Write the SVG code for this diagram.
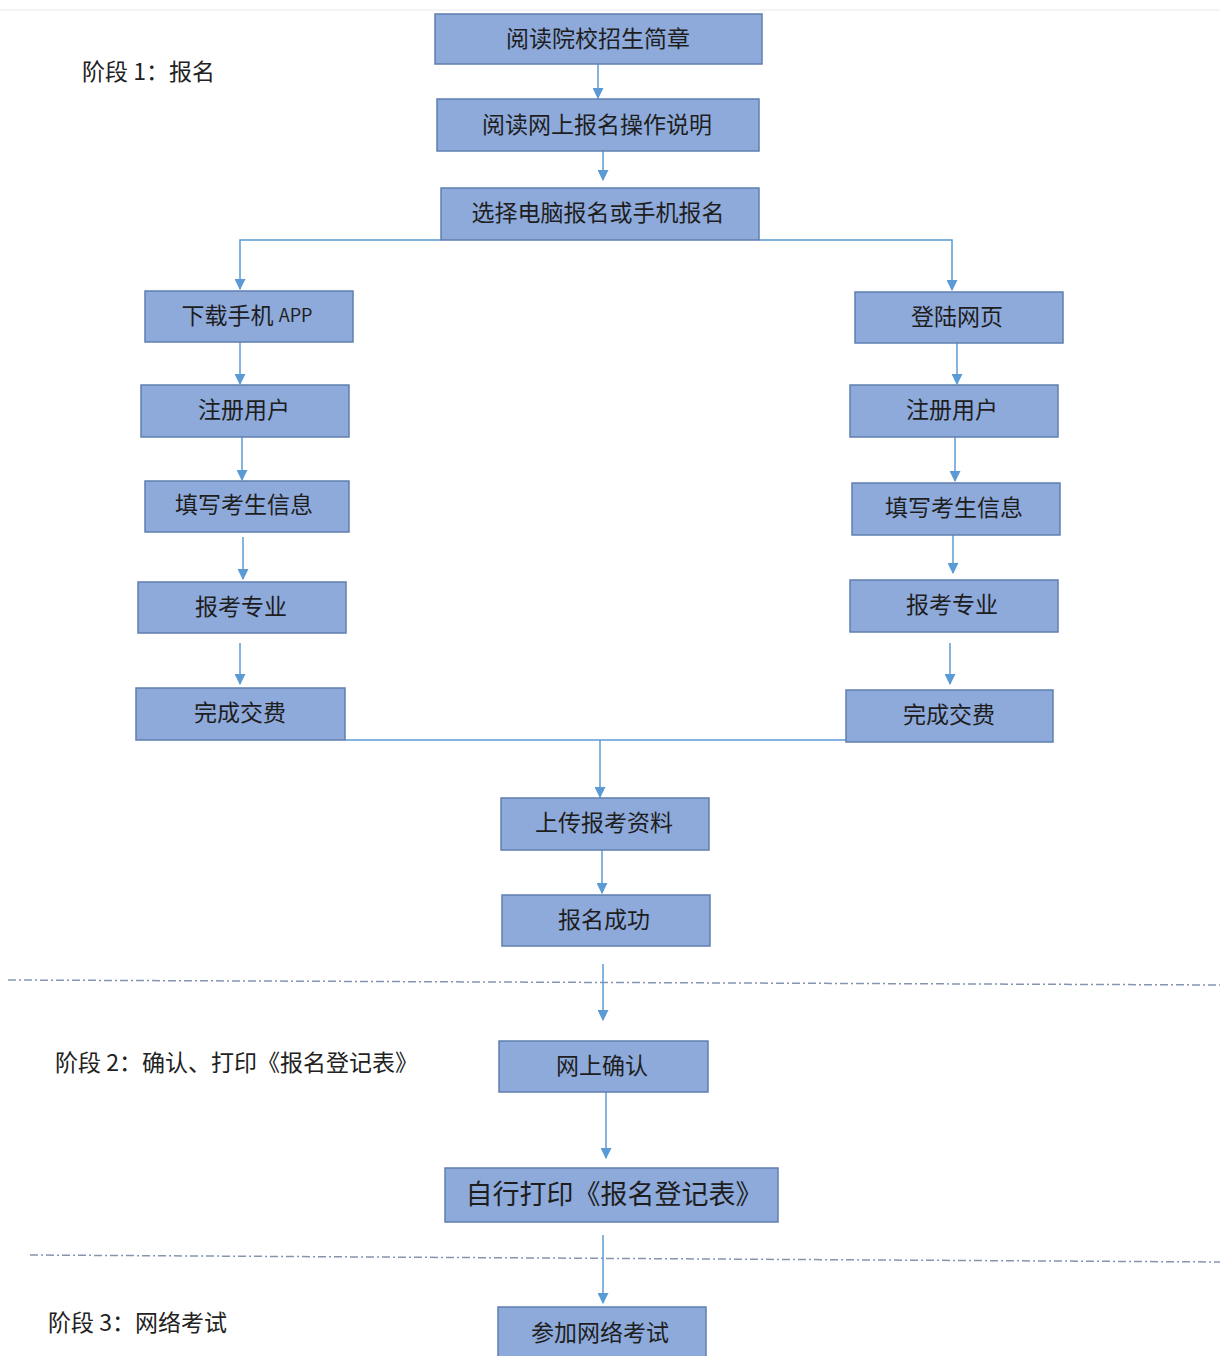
<svg xmlns="http://www.w3.org/2000/svg" width="1220" height="1356" viewBox="0 0 1220 1356">
<style>
.box{fill:#8eaadb;stroke:#5f7fb0;stroke-width:1.5}
.t{font-family:"Noto Sans CJK SC","Noto Sans",sans-serif;font-size:23px;fill:#1e1e1e;text-anchor:middle;dominant-baseline:central}
.lab{font-family:"Noto Sans CJK SC","Noto Sans",sans-serif;font-size:23px;fill:#222}
.c{fill:none;stroke:#5b9bd5;stroke-width:1.5}
.sep{fill:none;stroke:#8595b0;stroke-width:1.5;stroke-dasharray:8 3 2 3}
</style>
<defs>
<marker id="ah" viewBox="0 0 10 10" refX="9" refY="5" markerWidth="11" markerHeight="11" markerUnits="userSpaceOnUse" orient="auto">
<path d="M0,0 L10,5 L0,10 z" fill="#5b9bd5"/>
</marker>
</defs>
<rect width="1220" height="1356" fill="#ffffff"/>
<line x1="0" y1="10" x2="1220" y2="10" stroke="#e6e9ee" stroke-width="1"/>
<g id="labels">
<text class="lab" x="82" y="80">阶段 1：报名</text>
<text class="lab" x="55" y="1071">阶段 2：确认、打印《报名登记表》</text>
<text class="lab" x="48" y="1331">阶段 3：网络考试</text>
</g>
<g id="separators">
<path class="sep" d="M8,980 L1220,985"/>
<path class="sep" d="M30,1255 L1220,1262"/>
</g>
<g id="connectors">
<path class="c" marker-end="url(#ah)" d="M598,64 L598,98"/>
<path class="c" marker-end="url(#ah)" d="M603,151 L603,180"/>
<path class="c" marker-end="url(#ah)" d="M441,240 L240,240 L240,289"/>
<path class="c" marker-end="url(#ah)" d="M759,240 L952,240 L952,290"/>
<path class="c" marker-end="url(#ah)" d="M240,342 L240,384"/>
<path class="c" marker-end="url(#ah)" d="M242,437 L242,480"/>
<path class="c" marker-end="url(#ah)" d="M243,537 L243,579"/>
<path class="c" marker-end="url(#ah)" d="M240,643 L240,684"/>
<path class="c" marker-end="url(#ah)" d="M957,343 L957,384"/>
<path class="c" marker-end="url(#ah)" d="M955,437 L955,481"/>
<path class="c" marker-end="url(#ah)" d="M953,535 L953,573"/>
<path class="c" marker-end="url(#ah)" d="M950,643 L950,684"/>
<path class="c" d="M345,740 L846,740"/>
<path class="c" marker-end="url(#ah)" d="M600,740 L600,797"/>
<path class="c" marker-end="url(#ah)" d="M602,850 L602,893"/>
<path class="c" marker-end="url(#ah)" d="M603,964 L603,1020"/>
<path class="c" marker-end="url(#ah)" d="M606,1092 L606,1158"/>
<path class="c" marker-end="url(#ah)" d="M603,1235 L603,1303"/>
</g>
<g id="n1"><rect class="box" x="435" y="14" width="327" height="50"/><text class="t" x="598" y="37">阅读院校招生简章</text></g>
<g id="n2"><rect class="box" x="437" y="99" width="322" height="52"/><text class="t" x="597" y="123">阅读网上报名操作说明</text></g>
<g id="n3"><rect class="box" x="441" y="188" width="318" height="52"/><text class="t" x="598" y="211">选择电脑报名或手机报名</text></g>
<g id="l1"><rect class="box" x="145" y="291" width="208" height="51"/><text class="t" x="247" y="314">下载手机 <tspan font-size="18">APP</tspan></text></g>
<g id="l2"><rect class="box" x="141" y="385" width="208" height="52"/><text class="t" x="244" y="408">注册用户</text></g>
<g id="l3"><rect class="box" x="145" y="481" width="204" height="51"/><text class="t" x="244" y="503">填写考生信息</text></g>
<g id="l4"><rect class="box" x="138" y="582" width="208" height="51"/><text class="t" x="241" y="605">报考专业</text></g>
<g id="l5"><rect class="box" x="136" y="688" width="209" height="52"/><text class="t" x="240" y="711">完成交费</text></g>
<g id="r1"><rect class="box" x="855" y="292" width="208" height="51"/><text class="t" x="957" y="315">登陆网页</text></g>
<g id="r2"><rect class="box" x="850" y="385" width="208" height="52"/><text class="t" x="952" y="408">注册用户</text></g>
<g id="r3"><rect class="box" x="852" y="483" width="208" height="52"/><text class="t" x="954" y="506">填写考生信息</text></g>
<g id="r4"><rect class="box" x="850" y="580" width="208" height="52"/><text class="t" x="952" y="603">报考专业</text></g>
<g id="r5"><rect class="box" x="846" y="690" width="207" height="52"/><text class="t" x="949" y="713">完成交费</text></g>
<g id="m1"><rect class="box" x="501" y="798" width="208" height="52"/><text class="t" x="604" y="821">上传报考资料</text></g>
<g id="m2"><rect class="box" x="502" y="895" width="208" height="51"/><text class="t" x="604" y="918">报名成功</text></g>
<g id="m3"><rect class="box" x="499" y="1041" width="209" height="51"/><text class="t" x="602" y="1064">网上确认</text></g>
<g id="m4"><rect class="box" x="445" y="1168" width="333" height="54"/><text class="t" x="614" y="1192" style="font-size:27px">自行打印《报名登记表》</text></g>
<g id="m5"><rect class="box" x="498" y="1307" width="208" height="55"/><text class="t" x="600" y="1331">参加网络考试</text></g>
</svg>
